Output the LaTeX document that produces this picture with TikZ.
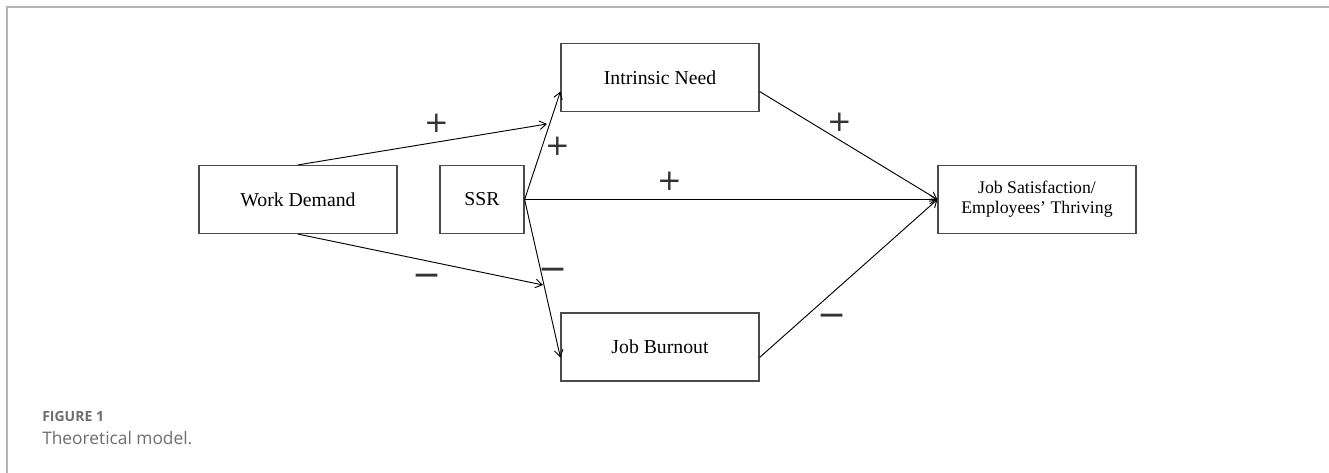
\documentclass[tikz,border=0pt]{standalone}
\usepackage{fontspec}
\setmainfont{Liberation Serif}
\newfontfamily\capfont{Open Sans}
\newfontfamily\signfont{DejaVu Sans}
\usetikzlibrary{arrows.meta,calc}
\definecolor{framegray}{HTML}{B4B4B4}
\definecolor{capgray}{HTML}{6E6E6E}
\definecolor{boxgray}{HTML}{4A4A4A}

\begin{document}
\begin{tikzpicture}[x=0.75pt,y=-0.75pt, >={Straight Barb[length=5pt,width=6.5pt]},
  box/.style={draw=boxgray,line width=0.9pt,rectangle,minimum width=148.5pt,minimum height=51pt,inner sep=0pt,font=\fontsize{14.8}{17}\selectfont},
  link/.style={->,line width=0.7pt},
  sign/.style={text=black!80,font=\signfont\fontsize{22}{22}\selectfont,inner sep=0pt},
  minus/.style={sign,font=\signfont\fontsize{26}{26}\selectfont}]
  \useasboundingbox (0,0) rectangle (1329,473);
  \draw[framegray,line width=1.2pt] (7,473) -- (7,7) -- (1329,7);
  % boxes
  \node[box] (wd) at (298,199.5) {Work Demand};
  \node[box,minimum width=63pt] (ssr) at (482,199.5) {SSR};
  \node[box] (inNeed) at (660,77.5) {Intrinsic Need};
  \node[box] (jb) at (660,347) {Job Burnout};
  \node[box,align=center,font=\fontsize{13.3}{15}\selectfont] (js) at (1037,199.5) {Job Satisfaction/\\Employees’ Thriving};
  % moderation points
  \coordinate (mUp) at (547,124);
  \coordinate (mDown) at (543,285);
  % paths
  \draw[link] (wd.north) -- (mUp);
  \draw[link] (wd.south) -- (mDown);
  \draw[link] (ssr.east) -- (inNeed.188);
  \draw[link] (ssr.east) -- (js.west);
  \draw[link] (ssr.east) -- (jb.186);
  \draw[link] (inNeed.352) -- (js.west);
  \draw[link] (jb.354) -- (js.west);
  % signs
  \node[sign] (p1) at (437,123) {+};
  \node[sign] (p2) at (558,146) {+};
  \node[sign] (p3) at (670,181) {+};
  \node[sign] (p4) at (840,122) {+};
  \node[minus] (m1) at (427,280) {−};
  \node[minus] (m2) at (553,274) {−};
  \node[minus] (m3) at (832,320) {−};
  % caption
  \node[anchor=base west,text=capgray,font=\capfont\bfseries\fontsize{10.5}{12}\selectfont,inner sep=0pt] (figno) at (42,422) {FIGURE 1};
  \node[anchor=base west,text=capgray,font=\capfont\fontsize{13}{15}\selectfont,inner sep=0pt] (figcap) at (42,445) {Theoretical model.};
\end{tikzpicture}
\end{document}
